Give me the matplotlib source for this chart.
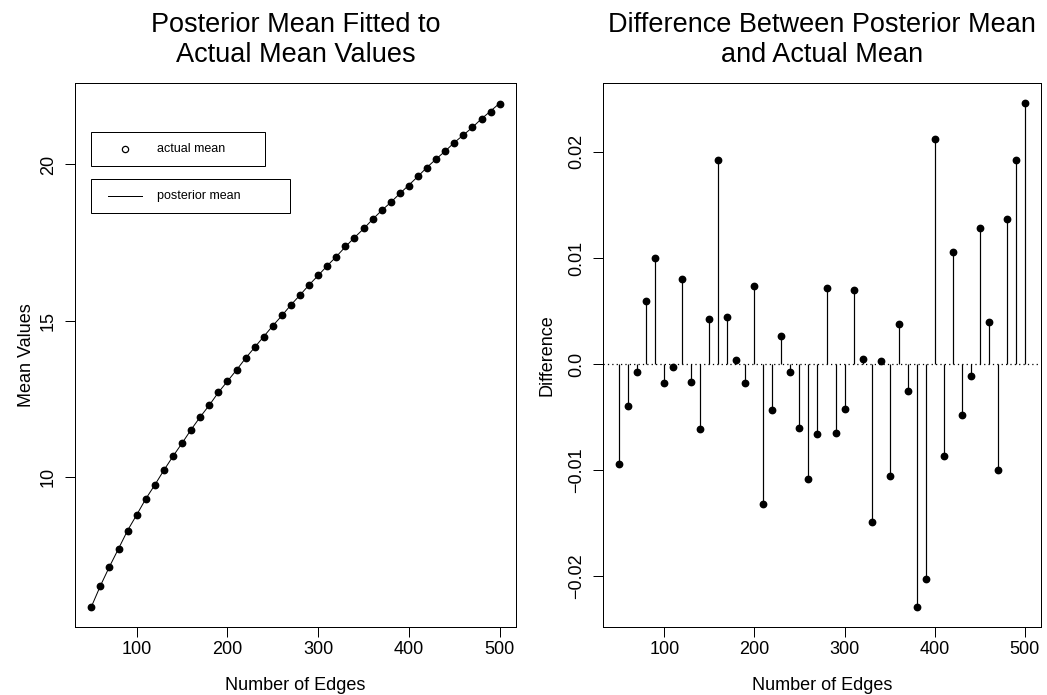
import matplotlib
matplotlib.use("Agg")
import matplotlib.pyplot as plt
from matplotlib.patches import Rectangle
from matplotlib.lines import Line2D

plt.rcParams['font.family'] = ['Liberation Sans', 'DejaVu Sans']

# number of edges
edges = [50, 60, 70, 80, 90, 100, 110, 120, 130, 140,
         150, 160, 170, 180, 190, 200, 210, 220, 230, 240,
         250, 260, 270, 280, 290, 300, 310, 320, 330, 340,
         350, 360, 370, 380, 390, 400, 410, 420, 430, 440,
         450, 460, 470, 480, 490, 500]

actual_mean = [5.84, 6.51, 7.12, 7.69, 8.27, 8.78, 9.29, 9.73, 10.21, 10.66,
               11.07, 11.49, 11.91, 12.29, 12.70, 13.05, 13.43, 13.80, 14.14, 14.49,
               14.84, 15.17, 15.51, 15.81, 16.15, 16.45, 16.75, 17.05, 17.38, 17.66,
               17.95, 18.24, 18.53, 18.81, 19.09, 19.32, 19.63, 19.90, 20.18, 20.43,
               20.69, 20.94, 21.20, 21.45, 21.69, 21.94]

difference = [-0.0094, -0.0040, -0.0008, 0.0059, 0.0100, -0.0018, -0.0003, 0.0080, -0.0017, -0.0061,
              0.0042, 0.0192, 0.0044, 0.0004, -0.0018, 0.0074, -0.0132, -0.0043, 0.0026, -0.0008,
              -0.0060, -0.0108, -0.0066, 0.0072, -0.0065, -0.0042, 0.0070, 0.0005, -0.0149, 0.0003,
              -0.0106, 0.0038, -0.0025, -0.0229, -0.0203, 0.0212, -0.0087, 0.0106, -0.0048, -0.0011,
              0.0128, 0.0040, -0.0100, 0.0137, 0.0192, 0.0246]

# posterior = actual + difference
posterior_mean = [a + d for a, d in zip(actual_mean, difference)]

W, H = 1047, 695
fig = plt.figure(figsize=(W / 100, H / 100), dpi=100)

LW = 0.72  # ~1 px
TICK_FS = 13
TITLE_FS = 19.5


def px_axes(x0, y0, x1, y1):
    # pixel box (top-left origin) -> axes
    return fig.add_axes([x0 / W, 1 - y1 / H, (x1 - x0) / W, (y1 - y0) / H])


def style(ax):
    for s in ax.spines.values():
        s.set_linewidth(LW)
    ax.tick_params(direction='out', length=7, width=LW, labelsize=TICK_FS, pad=3)
    ax.tick_params(axis='y', pad=6)
    ax.margins(x=0.04, y=0.04)


def two_line_title(ax, txt):
    ax.text(0.5, 1 + 43 / 544, txt, transform=ax.transAxes, ha='center', va='center',
            fontsize=TITLE_FS, linespacing=1.2)


def legend_box(x0, y0, x1, y1, label, kind):
    fig.add_artist(Rectangle((x0 / W, 1 - y1 / H), (x1 - x0) / W, (y1 - y0) / H,
                             transform=fig.transFigure, fill=False, lw=LW, ec='black'))
    yc = 1 - (y0 + y1) / 2 / H
    if kind == 'point':
        fig.add_artist(Line2D([125 / W], [yc], marker='o', ms=4.5, mfc='none', mec='black',
                              mew=0.9, ls='none', transform=fig.transFigure))
    else:
        fig.add_artist(Line2D([108 / W, 142 / W], [yc, yc], color='black', lw=LW,
                              transform=fig.transFigure))
    fig.text(157 / W, yc, label, ha='left', va='center', fontsize=9)


# left panel
ax1 = px_axes(75, 83, 516, 627)
ax1.plot(edges, posterior_mean, color='black', lw=LW)
ax1.plot(edges, actual_mean, 'o', color='black', ms=4.6)
style(ax1)
ax1.set_xticks([100, 200, 300, 400, 500])
ax1.set_yticks([10, 15, 20])
for lab in ax1.get_yticklabels():
    lab.set_rotation(90)
    lab.set_va('center')
ax1.set_xlabel("Number of Edges", fontsize=TICK_FS, va='center')
ax1.xaxis.set_label_coords(0.5, -58 / 544)
ax1.set_ylabel("Mean Values", fontsize=TICK_FS, va='center')
ax1.yaxis.set_label_coords(-48 / 441, 0.5)
two_line_title(ax1, "Posterior Mean Fitted to\nActual Mean Values")

legend_box(91, 132, 265, 166, "actual mean", 'point')
legend_box(91, 179, 290, 213, "posterior mean", 'line')

# right panel
ax2 = px_axes(603, 83, 1041, 627)
ax2.vlines(edges, 0, difference, color='black', lw=LW * 1.2)
ax2.plot(edges, difference, 'o', color='black', ms=4.6)
ax2.axhline(0, color='black', lw=0.9, dashes=(1, 2.5))
style(ax2)
ax2.set_xticks([100, 200, 300, 400, 500])
yt = [-0.02, -0.01, 0.0, 0.01, 0.02]
ax2.set_yticks(yt)
ax2.set_yticklabels(["\u22120.02", "\u22120.01", "0.0", "0.01", "0.02"],
                    rotation=90, va='center')
ax2.set_xlabel("Number of Edges", fontsize=TICK_FS, va='center')
ax2.xaxis.set_label_coords(0.5, -58 / 544)
ax2.set_ylabel("Difference", fontsize=TICK_FS, va='center')
ax2.yaxis.set_label_coords(-56 / 438, 0.5)
two_line_title(ax2, "Difference Between Posterior Mean\nand Actual Mean")

fig.savefig("out.png", dpi=100)
